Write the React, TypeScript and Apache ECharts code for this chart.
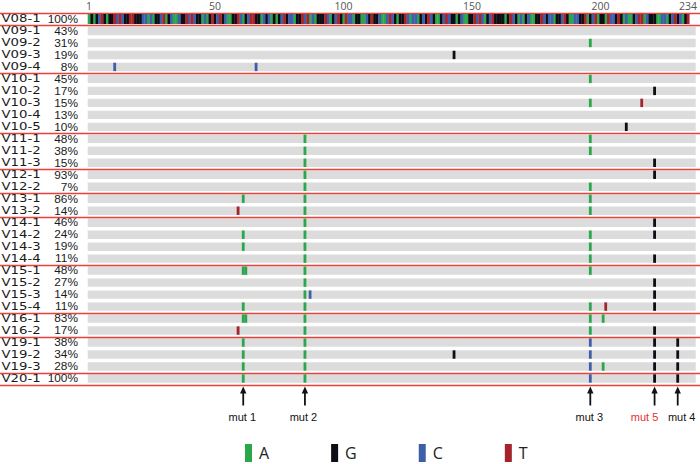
import React, { useEffect, useRef } from 'react';
import * as echarts from 'echarts';

const rowNames = ['V08-1','V09-1','V09-2','V09-3','V09-4','V10-1','V10-2','V10-3','V10-4','V10-5','V11-1','V11-2','V11-3','V12-1','V12-2','V13-1','V13-2','V14-1','V14-2','V14-3','V14-4','V15-1','V15-2','V15-3','V15-4','V16-1','V16-2','V19-1','V19-2','V19-3','V20-1'];
const rowPercents = ['100%','43%','31%','19%','8%','45%','17%','15%','13%','10%','48%','38%','15%','93%','7%','86%','14%','46%','24%','19%','11%','48%','27%','14%','11%','83%','17%','38%','34%','28%','100%'];
const positionTicks = [1, 50, 100, 150, 200, 234];
const referenceSequence = [
  'AGAGCTGAGG','TCTCGGTTGG','GCCACAGGCT','AGCAACGGTC','TCGGACAGTG',
  'CTGCAAGGTC','AGCTTGGACG','CAGAGCTGCC','AGGTCTACAG','GGTCAGCTGA',
  'TCCAGGAACG','TGGCAACTCG','AGGTCACCAG','CGTCGAAGCT','CGGAGCAAGG',
  'TCTCAGCTGG','GGAGTCGACA','GCAAGGTCGC','CAGGCTGAAC','CGGTAGCTAG',
  'GATCCGTGAC','AAGCTTACGG','GAACCAGCTG','CAGT'
].join('');
// last row index of each group (red separators)
const groupEnds = [0, 4, 9, 12, 14, 16, 20, 24, 26, 29, 30];
// [row, position, base]
const mutations: [number, number, string][] = [
  [2,196,'A'],
  [3,143,'G'],
  [4,11,'C'],[4,66,'C'],
  [5,196,'A'],
  [6,221,'G'],
  [7,196,'A'],[7,216,'T'],
  [9,210,'G'],
  [10,85,'A'],[10,196,'A'],
  [11,85,'A'],[11,196,'A'],
  [12,85,'A'],[12,221,'G'],
  [13,85,'A'],[13,221,'G'],
  [14,85,'A'],[14,196,'A'],
  [15,61,'A'],[15,85,'A'],[15,196,'A'],
  [16,59,'T'],[16,85,'A'],[16,196,'A'],
  [17,85,'A'],[17,221,'G'],
  [18,61,'A'],[18,85,'A'],[18,196,'A'],[18,221,'G'],
  [19,61,'A'],[19,85,'A'],[19,196,'A'],
  [20,85,'A'],[20,196,'A'],[20,221,'G'],
  [21,61,'A'],[21,62,'A'],[21,85,'A'],[21,196,'A'],
  [22,85,'A'],[22,221,'G'],
  [23,85,'A'],[23,87,'C'],[23,221,'G'],
  [24,61,'A'],[24,85,'A'],[24,196,'A'],[24,202,'T'],[24,221,'G'],
  [25,61,'A'],[25,62,'A'],[25,85,'A'],[25,196,'A'],[25,201,'A'],
  [26,59,'T'],[26,85,'A'],[26,196,'A'],[26,221,'G'],
  [27,61,'A'],[27,85,'A'],[27,196,'C'],[27,221,'G'],[27,230,'G'],
  [28,61,'A'],[28,85,'A'],[28,143,'G'],[28,196,'C'],[28,221,'G'],[28,230,'G'],
  [29,61,'A'],[29,85,'A'],[29,196,'C'],[29,201,'A'],[29,221,'G'],[29,230,'G'],
  [30,61,'A'],[30,85,'A'],[30,196,'C'],[30,221,'G'],[30,230,'G'],
];
const arrowPositions = [61, 85, 196, 221, 230];
const arrowLabels = ['mut 1', 'mut 2', 'mut 3', 'mut 5', 'mut 4'];
const bases = ['A', 'G', 'C', 'T'];

const BASE_COLORS: Record<string, string> = { A: '#2aa64b', G: '#0e0e16', C: '#3d5ea9', T: '#a5232a' };
const SEP_COLOR = '#e8413b';
const HIGHLIGHT_LABEL = 'mut 5';
const LABEL_SHIFT = [-1, -1.5, -1, -10, 4];

export default function App() {
  const ref = useRef<HTMLDivElement>(null);
  useEffect(() => {
    const chart = echarts.init(ref.current!, null, { renderer: 'svg' });
    const X_MIN = 0.5, X_MAX = 237;
    const lastRow = rowNames.length - 1;

    const baseSeries = bases.map((b) => {
      const data: number[][] = [];
      for (let i = 0; i < referenceSequence.length; i++) {
        if (referenceSequence[i] === b) data.push([i + 1, 0, 0]);
      }
      mutations.forEach(([r, p, base]) => { if (base === b) data.push([p, r, 1]); });
      const color = BASE_COLORS[b];
      return {
        type: 'custom', name: b, coordinateSystem: 'cartesian2d',
        itemStyle: { color },
        encode: { x: 0, y: 1 },
        z: 3,
        renderItem: (params: any, api: any) => {
          const pos = api.value(0), row = api.value(1), kind = api.value(2);
          const c = api.coord([pos, row]);
          if (kind === 0) {
            const l = api.coord([pos - 0.5, row]);
            const r = api.coord([pos + 0.5, row]);
            return { type: 'rect', shape: { x: l[0], y: c[1] - 5, width: r[0] - l[0] + 0.3, height: 10 }, style: { fill: color } };
          }
          return { type: 'rect', shape: { x: c[0] - 1.4, y: c[1] - 4.2, width: 2.8, height: 8.4 }, style: { fill: color } };
        },
        data,
      };
    });

    const bgData: number[][] = [];
    for (let r = 1; r <= lastRow; r++) bgData.push([X_MIN, r]);

    const labelData: number[][] = [];
    for (let r = 0; r <= lastRow; r++) labelData.push([X_MIN, r]);

    const sepData: number[][] = [[X_MIN, 0, -1]];
    groupEnds.forEach((r) => sepData.push([X_MIN, r, 1]));

    const arrowData = arrowPositions.map((p, i) => [p, lastRow, i]);

    chart.setOption({
      animation: false,
      backgroundColor: '#ffffff',
      grid: { left: 87.7, right: 3, top: 12.5, height: 372 },
      xAxis: {
        type: 'value', position: 'top', min: X_MIN, max: X_MAX,
        axisLine: { show: false }, axisTick: { show: false }, splitLine: { show: false },
        axisLabel: { customValues: positionTicks, fontSize: 10.5, lineHeight: 10, color: '#555', margin: 2.5, fontFamily: 'Open Sans' },
      },
      yAxis: {
        type: 'category', data: rowNames, inverse: true, position: 'left',
        axisLine: { show: false }, axisTick: { show: false }, splitLine: { show: false },
        axisLabel: { show: false },
      },
      legend: {
        data: bases, left: 245, top: 444, padding: 0, itemWidth: 7, itemHeight: 18, itemGap: 62, icon: 'rect',
        selectedMode: false,
        textStyle: { fontSize: 16, color: '#222', fontFamily: 'Open Sans', padding: [0, 0, 0, 2] },
      },
      series: [
        {
          type: 'custom', name: 'bg', coordinateSystem: 'cartesian2d', encode: { x: 0, y: 1 }, z: 1,
          renderItem: (params: any, api: any) => {
            const row = api.value(1);
            const l = api.coord([X_MIN, row]);
            const r = api.coord([X_MAX, row]);
            return { type: 'rect', shape: { x: l[0], y: l[1] - 4.2, width: r[0] - l[0], height: 8.4 }, style: { fill: '#dcdcdc' } };
          },
          data: bgData,
        },
        {
          type: 'custom', name: 'rowLabels', coordinateSystem: 'cartesian2d', encode: { x: 0, y: 1 }, z: 5, clip: false,
          renderItem: (params: any, api: any) => {
            const row = api.value(1);
            const c = api.coord([X_MIN, row]);
            return {
              type: 'group',
              children: [
                {
                  type: 'text', x: 1.5, y: c[1], scaleX: 1.3,
                  style: { text: rowNames[row], fontSize: 10.2, fontFamily: 'DejaVu Sans', fill: '#1a1a1a', align: 'left', verticalAlign: 'middle' },
                },
                {
                  type: 'text', x: 78, y: c[1], scaleX: 1.12,
                  style: { text: rowPercents[row], fontSize: 10.6, fontFamily: 'Liberation Sans', fill: '#1a1a1a', align: 'right', verticalAlign: 'middle' },
                },
              ],
            };
          },
          data: labelData,
        },
        {
          type: 'custom', name: 'sep', coordinateSystem: 'cartesian2d', encode: { x: 0, y: 1 }, z: 2, clip: false,
          itemStyle: { color: SEP_COLOR },
          renderItem: (params: any, api: any) => {
            const row = api.value(1), side = api.value(2);
            const c = api.coord([X_MIN, row]);
            const bandH = api.size([0, 1])[1];
            const y = Math.round(c[1] + side * bandH / 2) + 0.5;
            return {
              type: 'line',
              shape: { x1: 0, y1: y, x2: api.getWidth(), y2: y },
              style: { stroke: SEP_COLOR, lineWidth: 1.4, fill: null },
            };
          },
          data: sepData,
        },
        ...baseSeries,
        {
          type: 'custom', name: 'arrows', coordinateSystem: 'cartesian2d', encode: { x: 0, y: 1 }, z: 4, clip: false,
          itemStyle: { color: '#111' },
          renderItem: (params: any, api: any) => {
            const pos = api.value(0), row = api.value(1), idx = api.value(2);
            const c = api.coord([pos, row]);
            const bandH = api.size([0, 1])[1];
            const gb = c[1] + bandH / 2;
            const label = arrowLabels[idx];
            return {
              type: 'group',
              children: [
                { type: 'rect', shape: { x: c[0] - 0.9, y: gb + 7, width: 1.8, height: 14 }, style: { fill: '#111' } },
                { type: 'polygon', shape: { points: [[c[0], gb + 2], [c[0] - 3.2, gb + 9], [c[0] + 3.2, gb + 9]] }, style: { fill: '#111' } },
                {
                  type: 'text', x: c[0] + LABEL_SHIFT[idx], y: gb + 32,
                  style: {
                    text: label, fontSize: 11, fontFamily: 'Liberation Sans',
                    fill: label === HIGHLIGHT_LABEL ? '#e3312f' : '#111',
                    align: 'center', verticalAlign: 'middle',
                  },
                },
              ],
            };
          },
          data: arrowData,
        },
      ],
    });
    return () => chart.dispose();
  }, []);
  return <div ref={ref} style={{ position: 'fixed', left: 0, top: 0, width: 700, height: 464 }} />;
}
